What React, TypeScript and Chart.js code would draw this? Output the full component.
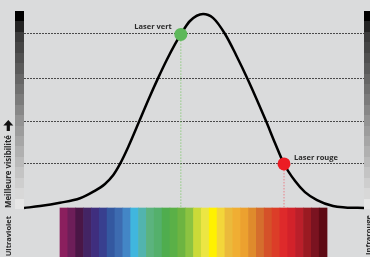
import React, { useEffect, useRef } from "react";
import { Chart, registerables } from "chart.js";

Chart.register(...registerables);

// Eye sensitivity curve (wavelength in nm, relative visibility)
const curveNm = [355, 373, 395.2, 417.6, 432.5, 445.5, 454.8, 462.3, 471.6, 483.9, 493.9, 505.1, 514.5, 523.8, 530.1, 540.5, 555.1, 566.2, 579.7, 592, 605.4, 625.5, 635.5, 645.6, 658, 669, 682.5, 700.4, 714, 735];
const curveValue = [0, 0.01, 0.027, 0.05, 0.084, 0.124, 0.17, 0.227, 0.316, 0.448, 0.557, 0.672, 0.763, 0.845, 0.894, 0.964, 1.0, 0.98, 0.897, 0.789, 0.66, 0.448, 0.335, 0.227, 0.139, 0.082, 0.041, 0.01, 0.003, 0];

// Lasers
const laserNames = ["Laser vert", "Laser rouge"];
const laserNm = [530.3, 645.6];
const laserValue = [0.895, 0.227];
const laserColors = ["#5DB85A", "#EC1C24"];
const laserLineColors = ["#8FCB80", "#E98088"];

// Spectrum stripes
const spectrumStartNm = 395.2;
const spectrumEndNm = 693.7;
const spectrumColors = [
  "#8B1F5E", "#6D1E59", "#4A1646", "#432464", "#3F2E7E", "#383F8F", "#3458A0", "#3D6BB0",
  "#4386C6", "#40B6DE", "#52B4AE", "#5BB37E", "#54B06C", "#4FAD4E", "#5AB047", "#6DB441",
  "#8CC341", "#CBDA38", "#ECE643", "#FFF100", "#F3D63A", "#EBBA3B", "#F0AE33", "#ECA12F",
  "#DF8B2C", "#D56E2D", "#D55129", "#DC3D28", "#DE2A2B", "#D2222A", "#BA1F2A", "#9A1A22",
  "#7A1320", "#5E0A14",
];

// Grey visibility scale (top = dark)
const greyLevels = [
  "#000000", "#232323", "#3B3B3B", "#454545", "#505050", "#5A5A5A", "#666666", "#707070",
  "#7B7B7B", "#878787", "#939393", "#9C9C9C", "#A6A6A6", "#B0B0B0", "#BABABA", "#C4C4C4",
  "#CECECE", "#D8D8D8", "#E6E6E6",
];

// Horizontal reference lines
const gridValues = [0.227, 0.448, 0.67, 0.897];

// Side labels
const yLabel = "Meilleure visibilité";
const leftEndLabel = "Ultraviolet";
const rightEndLabel = "Infrarouge";

const X_MIN = 355;
const X_MAX = 735;
const Y_MIN = -0.2526;
const Y_MAX = 1.0155;
const BG = "#DADBDC";
const FONT = 'bold 7.5px "Open Sans"';
const AXIS_FONT = 'bold 7.9px "Open Sans"';
const TEXT = "#2B2B2B";

const decorPlugin = {
  id: "decor",
  beforeDraw(chart: any) {
    const { ctx, width, height, chartArea, scales } = chart;
    ctx.save();
    ctx.fillStyle = BG;
    ctx.fillRect(0, 0, width, height);
    // grey scales
    const y = scales.y;
    const top = chartArea.top;
    const bottom = y.getPixelForValue(-0.005);
    const h = (bottom - top) / greyLevels.length;
    greyLevels.forEach((c, i) => {
      ctx.fillStyle = c;
      const y0 = Math.round(top + i * h);
      const y1 = Math.round(top + (i + 1) * h);
      ctx.fillRect(chartArea.left - 9, y0, 9, y1 - y0);
      ctx.fillRect(chartArea.right, y0, width - chartArea.right, y1 - y0);
    });
    ctx.restore();
  },
  afterDatasetsDraw(chart: any) {
    const { ctx, scales } = chart;
    ctx.save();
    ctx.font = FONT;
    ctx.fillStyle = TEXT;
    ctx.textBaseline = "middle";
    laserNames.forEach((name, i) => {
      const px = scales.x.getPixelForValue(laserNm[i]);
      const py = scales.y.getPixelForValue(laserValue[i]);
      if (i === 0) {
        ctx.textAlign = "right";
        ctx.fillText(name, px - 9, py - 8);
      } else {
        ctx.textAlign = "left";
        ctx.fillText(name, px + 10, py - 6);
      }
    });
    ctx.restore();
  },
  afterDraw(chart: any) {
    const { ctx, scales, width } = chart;
    const base = scales.y.getPixelForValue(0);
    ctx.save();
    ctx.fillStyle = TEXT;
    ctx.textBaseline = "middle";
    // left label
    ctx.save();
    ctx.font = AXIS_FONT;
    ctx.translate(8.5, base);
    ctx.rotate(-Math.PI / 2);
    ctx.textAlign = "left";
    ctx.fillText(yLabel, 0, 0);
    ctx.restore();
    // arrow
    const ax = 8.3;
    const headTop = base - 88;
    ctx.fillStyle = "#111";
    ctx.beginPath();
    ctx.moveTo(ax, headTop);
    ctx.lineTo(ax + 5, headTop + 5.5);
    ctx.lineTo(ax + 1.6, headTop + 5.5);
    ctx.lineTo(ax + 1.6, headTop + 11);
    ctx.lineTo(ax - 1.6, headTop + 11);
    ctx.lineTo(ax - 1.6, headTop + 5.5);
    ctx.lineTo(ax - 5, headTop + 5.5);
    ctx.closePath();
    ctx.fill();
    ctx.fillStyle = TEXT;
    ctx.font = FONT;
    // ultraviolet
    ctx.save();
    ctx.translate(8.5, base + 8);
    ctx.rotate(-Math.PI / 2);
    ctx.textAlign = "right";
    ctx.fillText(leftEndLabel, 0, 0);
    ctx.restore();
    // infrarouge
    ctx.save();
    ctx.translate(width - 1, base + 7);
    ctx.rotate(-Math.PI / 2);
    ctx.textAlign = "right";
    ctx.fillText(rightEndLabel, 0, 0);
    ctx.restore();
    ctx.restore();
  },
};

export default function App() {
  const ref = useRef<HTMLCanvasElement | null>(null);
  useEffect(() => {
    if (!ref.current) return;
    const n = spectrumColors.length;
    const step = (spectrumEndNm - spectrumStartNm) / n;
    const spectrumData = spectrumColors.map((_, i) => ({
      x: spectrumStartNm + (i + 0.5) * step,
      y: [-0.4, 0],
    }));
    const datasets: any[] = [
      {
        type: "scatter",
        data: laserNm.map((x, i) => ({ x, y: laserValue[i] })),
        showLine: false,
        pointRadius: 6.5,
        pointHoverRadius: 6.5,
        pointBorderWidth: 0,
        pointBackgroundColor: laserColors,
        pointBorderColor: laserColors,
        order: 0,
      },
      {
        type: "line",
        data: curveNm.map((x, i) => ({ x, y: curveValue[i] })),
        borderColor: "#000000",
        borderWidth: 2.5,
        pointRadius: 0,
        cubicInterpolationMode: "monotone",
        fill: false,
        order: 1,
      },
      ...laserNm.map((x, i) => ({
        type: "line",
        data: [
          { x, y: laserValue[i] },
          { x, y: 0 },
        ],
        borderColor: laserLineColors[i],
        borderWidth: 1,
        borderDash: [1.5, 1.5],
        pointRadius: 0,
        fill: false,
        order: 2,
      })),
      {
        type: "bar",
        data: spectrumData,
        backgroundColor: spectrumColors,
        borderWidth: 0,
        barPercentage: 1,
        categoryPercentage: 1,
        order: 3,
      },
    ];
    const chart = new Chart(ref.current, {
      type: "line",
      data: { datasets },
      options: {
        animation: false,
        responsive: false,
        events: [],
        layout: { autoPadding: false, padding: { left: 24, right: 6, top: 11, bottom: 0 } },
        plugins: { legend: { display: false }, tooltip: { enabled: false } },
        scales: {
          x: { type: "linear", min: X_MIN, max: X_MAX, display: false, offset: false },
          y: {
            type: "linear",
            min: Y_MIN,
            max: Y_MAX,
            afterBuildTicks: (axis: any) => {
              axis.ticks = gridValues.map((v) => ({ value: v }));
            },
            ticks: { display: false },
            grid: { drawTicks: false, color: "#4A4A4A", lineWidth: 1 },
            border: { display: false, dash: [2, 1] },
          },
        },
      },
      plugins: [decorPlugin],
    } as any);
    return () => chart.destroy();
  }, []);
  return (
    <div style={{ position: "fixed", left: 0, top: 0, width: 370, height: 257, background: BG }}>
      <canvas ref={ref} width={370} height={257} style={{ display: "block" }} />
    </div>
  );
}
